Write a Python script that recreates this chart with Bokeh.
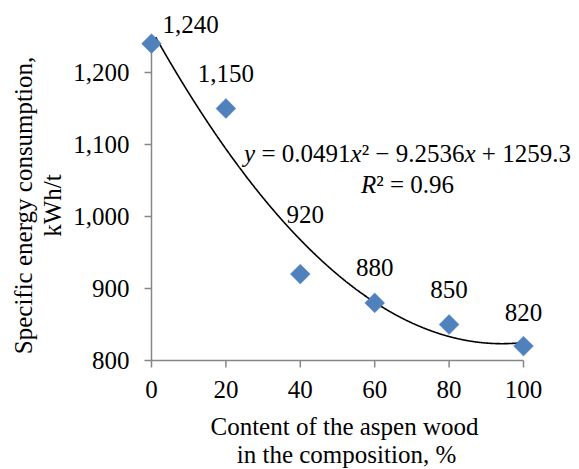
import numpy as np
from bokeh.plotting import figure
from bokeh.models import Range1d, Label
from bokeh.embed import file_html
from bokeh.resources import INLINE

# ---------------- data ----------------
content = [0, 20, 40, 60, 80, 100]             # aspen wood content, %
energy = [1240, 1150, 920, 880, 850, 820]      # specific energy consumption, kWh/t
point_labels = ["1,240", "1,150", "920", "880", "850", "820"]
x_ticks = [0, 20, 40, 60, 80, 100]
x_tick_labels = ["0", "20", "40", "60", "80", "100"]
y_ticks = [800, 900, 1000, 1100, 1200]
y_tick_labels = ["800", "900", "1,000", "1,100", "1,200"]
x_title = ["Content of the aspen wood", "in the composition, %"]
y_title = ["Specific energy consumption,", "kWh/t"]
eq_pieces = [("y", "italic"), (" = 0.0491", "normal"), ("x", "italic"),
             ("\u00b2 \u2212 9.2536", "normal"), ("x", "italic"), (" + 1259.3", "normal")]
r2_pieces = [("R", "italic"), ("\u00b2 = 0.96", "normal")]
X_MIN, X_MAX = 0, 100
Y_MIN, Y_MAX = 800, 1250

# ---------------- style / layout ----------------
FONT = "Liberation Serif"
FSIZE = 25
FS = f"{FSIZE}px"
BLUE = "#4F81BD"
AXIS = "#868686"
W, H = 579, 469
L, R, T, B = 151, 523, 36, 360          # plot-area edges in px
sx = (R - L) / (X_MAX - X_MIN)
sy = (B - T) / (Y_MAX - Y_MIN)
TICK = 7
FIX = 9                                  # baseline correction, px

p = figure(width=W, height=H, output_backend="svg", toolbar_location=None,
           x_range=Range1d(X_MIN - L / sx, X_MAX + (W - R) / sx),
           y_range=Range1d(Y_MIN - (H - B) / sy, Y_MAX + T / sy),
           x_axis_type=None, y_axis_type=None,
           min_border=0, min_border_left=0, min_border_right=0,
           min_border_top=0, min_border_bottom=0)
p.outline_line_color = None
p.background_fill_color = "white"
p.border_fill_color = "white"

# axes (lines and ticks)
p.segment(x0=[X_MIN, X_MIN], y0=[Y_MIN, Y_MIN], x1=[X_MAX, X_MIN], y1=[Y_MIN, Y_MAX],
          line_color=AXIS, line_width=1.5)
p.segment(x0=x_ticks, y0=[Y_MIN] * len(x_ticks), x1=x_ticks,
          y1=[Y_MIN - TICK / sy] * len(x_ticks), line_color=AXIS, line_width=1.5)
p.segment(x0=[X_MIN - TICK / sx] * len(y_ticks), y0=y_ticks, x1=[X_MIN] * len(y_ticks),
          y1=y_ticks, line_color=AXIS, line_width=1.5)

# quadratic trendline (least squares on the data), clipped at the axis maximum
coef = np.polyfit(content, energy, 2)
xs = np.linspace(X_MIN, X_MAX, 1001)
ys = np.polyval(coef, xs)
keep = ys <= Y_MAX
p.line(xs[keep], ys[keep], line_color="black", line_width=1.6)

# points
p.scatter(content, energy, marker="square", size=14, angle=np.pi / 4,
          fill_color=BLUE, line_color=BLUE, line_width=0.5)


def put(text, px, py, align="left", style="normal", angle=0.0):
    if angle:
        px -= FIX
    else:
        py -= FIX
    p.add_layout(Label(x=X_MIN, y=Y_MIN, x_offset=px - L, y_offset=B - py, text=text,
                       text_align=align, text_baseline="alphabetic", angle=angle,
                       text_font=FONT, text_font_size=FS, text_font_style=style,
                       text_color="black"))


# data labels
label_offsets = [(39, 10), (0, 26), (5, 51), (0, 26), (0, 26), (0, 25)]
for xv, yv, t, (dx, dy) in zip(content, energy, point_labels, label_offsets):
    p.add_layout(Label(x=xv, y=yv, text=t, x_offset=dx, y_offset=dy + FIX,
                       text_align="center", text_baseline="alphabetic",
                       text_font=FONT, text_font_size=FS, text_color="black"))

# tick labels
for v, t in zip(x_ticks, x_tick_labels):
    put(t, L + (v - X_MIN) * sx, 398, align="center")
for v, t in zip(y_ticks, y_tick_labels):
    put(t, 129, B - (v - Y_MIN) * sy + 8.5, align="right")

# axis titles
put(x_title[0], 344, 435, align="center")
put(x_title[1], 346, 463, align="center")
put(y_title[0], 32, 205, align="center", angle=np.pi / 2)
put(y_title[1], 61, 205, align="center", angle=np.pi / 2)

# trendline equation (Times metrics, em)
WID = {" ": .25, "=": .564, "\u2212": .564, "+": .564, ".": .25, "\u00b2": .3,
       "y": .444, "x": .444, "R": .611}
for d in "0123456789":
    WID[d] = .5


def em(s):
    return sum(WID.get(c, .5) for c in s)


def put_pieces(pieces, center, baseline):
    total = sum(em(s) for s, _ in pieces) * FSIZE
    cur = center - total / 2
    for s, style in pieces:
        lead = len(s) - len(s.lstrip(" "))
        put(s.strip(" "), cur + lead * WID[" "] * FSIZE, baseline, style=style)
        cur += em(s) * FSIZE


put_pieces(eq_pieces, 407, 162)
put_pieces(r2_pieces, 407, 193)

open("out.html", "w").write(file_html(p, INLINE))
